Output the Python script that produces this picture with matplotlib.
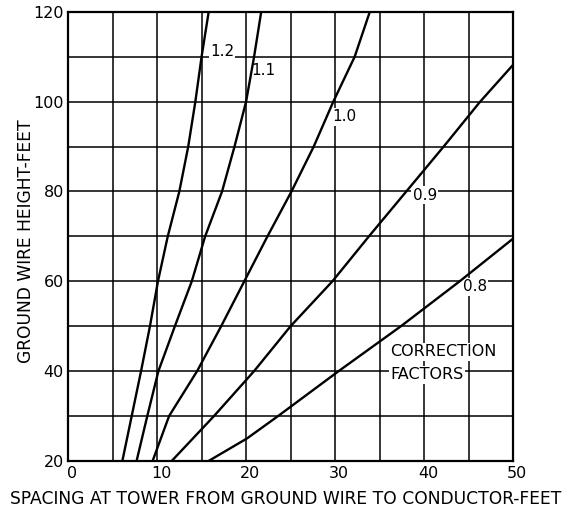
import matplotlib
matplotlib.use("Agg")
import matplotlib.pyplot as plt
from matplotlib.transforms import ScaledTranslation

heights = [20, 30, 40, 50, 60, 70, 80, 90, 100, 110, 120]
spacing_12 = [6.1, 7.15, 8.2, 9.2, 10.1, 11.2, 12.5, 13.5, 14.3, 15.0, 15.8]
spacing_11 = [7.7, 8.9, 10.15, 12.0, 13.9, 15.4, 17.3, 18.7, 20.0, 20.9, 21.7]
spacing_10 = [9.5, 11.35, 14.5, 17.2, 19.8, 22.4, 25.1, 27.6, 29.8, 32.2, 33.9]
h_09 = [20, 30, 40, 50, 60, 70, 80, 90, 100, 108.2]
spacing_09 = [11.65, 16.4, 20.9, 25.0, 29.7, 33.8, 38.0, 42.2, 46.3, 50.0]
h_08 = [20, 25, 30, 40, 50, 60, 69.5]
spacing_08 = [15.8, 20.1, 23.6, 30.4, 37.4, 44.0, 50.0]

labels = ["1.2", "1.1", "1.0", "0.9", "0.8"]
label_pos = [(17.3, 111.1), (21.9, 106.9), (31.0, 96.6), (40.1, 79.2), (45.7, 58.8)]
note_lines = ["CORRECTION", "FACTORS"]
note_pos = [(36.2, 44.3), (36.2, 39.2)]

fig = plt.figure(figsize=(5.72, 5.15), dpi=100)
ax = fig.add_axes([0.119, 0.105, 0.778, 0.872])
ax.set_xlim(0, 50)
ax.set_ylim(20, 120)

for x in range(5, 50, 5):
    ax.axvline(x, color="black", lw=1.1, zorder=1)
for y in range(30, 120, 10):
    ax.axhline(y, color="black", lw=1.1, zorder=1)

series = [(spacing_12, heights), (spacing_11, heights), (spacing_10, heights),
          (spacing_09, h_09), (spacing_08, h_08)]
for xs, ys in series:
    ax.plot(xs, ys, color="black", lw=1.7, zorder=3, solid_joinstyle="round")

for lab, (x, y) in zip(labels, label_pos):
    ax.text(x, y, lab, ha="center", va="center", fontsize=11, zorder=2,
            bbox=dict(facecolor="white", edgecolor="none", pad=1.0))

for lab, (x, y) in zip(note_lines, note_pos):
    ax.text(x, y, lab, ha="left", va="center", fontsize=11.5, zorder=4,
            bbox=dict(facecolor="white", edgecolor="none", pad=1.0))

for s in ax.spines.values():
    s.set_linewidth(1.6)

ax.set_xticks([0, 10, 20, 30, 40, 50])
ax.set_yticks([20, 40, 60, 80, 100, 120])
ax.tick_params(length=0, labelsize=11.5)
ax.tick_params(axis="y", pad=3)
ax.tick_params(axis="x", pad=4)
offset = ScaledTranslation(4 / 100, 0, fig.dpi_scale_trans)
for lbl in ax.get_xticklabels():
    lbl.set_transform(lbl.get_transform() + offset)

ax.set_xlabel("SPACING AT TOWER FROM GROUND WIRE TO CONDUCTOR-FEET", fontsize=12.3)
ax.set_ylabel("GROUND WIRE HEIGHT-FEET", fontsize=12.3)
ax.xaxis.set_label_coords(0.488, -0.064)
ax.yaxis.set_label_coords(-0.074, 0.49)

fig.savefig("out.png", dpi=100)
